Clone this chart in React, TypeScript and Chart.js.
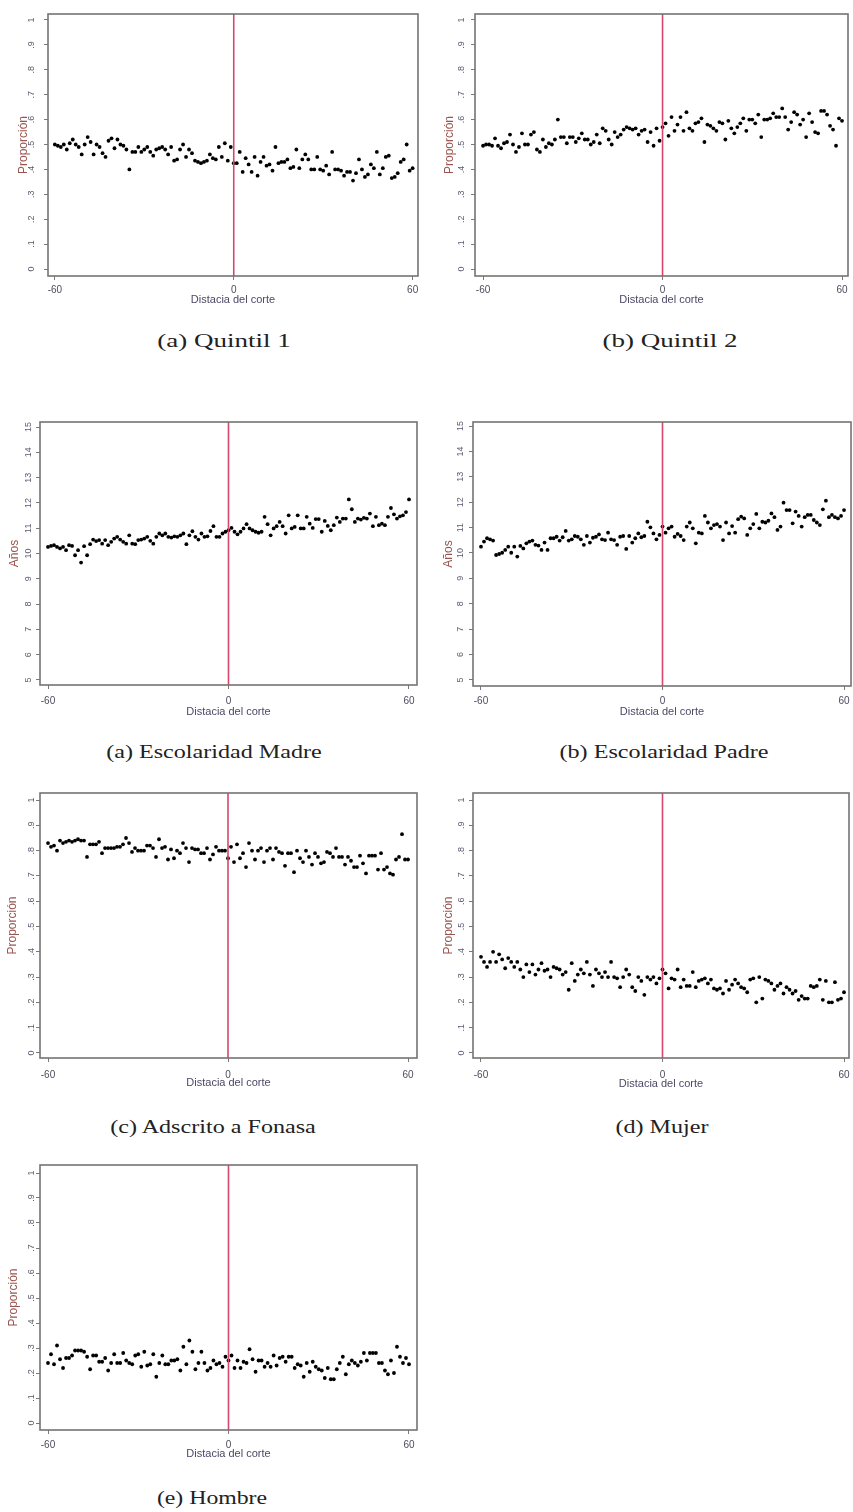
import { useEffect, useRef } from 'react';
import { Chart, registerables } from 'chart.js';

Chart.register(...registerables);

// ---------- data ----------
const DIST = [
  -60, -59, -58, -57, -56, -55, -54, -53, -52, -51,
  -50, -49, -48, -47, -46, -45, -44, -43, -42, -41,
  -40, -39, -38, -37, -36, -35, -34, -33, -32, -31,
  -30, -29, -28, -27, -26, -25, -24, -23, -22, -21,
  -20, -19, -18, -17, -16, -15, -14, -13, -12, -11,
  -10, -9, -8, -7, -6, -5, -4, -3, -2, -1,
  0,
  1, 2, 3, 4, 5, 6, 7, 8, 9, 10,
  11, 12, 13, 14, 15, 16, 17, 18, 19, 20,
  21, 22, 23, 24, 25, 26, 27, 28, 29, 30,
  31, 32, 33, 34, 35, 36, 37, 38, 39, 40,
  41, 42, 43, 44, 45, 46, 47, 48, 49, 50,
  51, 52, 53, 54, 55, 56, 57, 58, 59, 60,
];

const QUINTIL_1 = [
  0.50, 0.495, 0.49, 0.50, 0.48, 0.505, 0.52, 0.50, 0.49, 0.46,
  0.50, 0.53, 0.51, 0.46, 0.50, 0.49, 0.465, 0.45, 0.515, 0.525,
  0.485, 0.52, 0.50, 0.495, 0.48, 0.40, 0.47, 0.47, 0.49, 0.47,
  0.48, 0.49, 0.47, 0.455, 0.48, 0.485, 0.49, 0.48, 0.46, 0.49,
  0.435, 0.44, 0.48, 0.50, 0.45, 0.48, 0.465, 0.435, 0.43, 0.425,
  0.43, 0.435, 0.46, 0.445, 0.44, 0.49, 0.45, 0.505, 0.435, 0.49,
  0.425,
  0.425, 0.47, 0.39, 0.445, 0.42, 0.39, 0.45, 0.375, 0.43, 0.45,
  0.415, 0.42, 0.395, 0.49, 0.425, 0.43, 0.43, 0.44, 0.405, 0.41,
  0.48, 0.405, 0.44, 0.46, 0.44, 0.40, 0.40, 0.45, 0.40, 0.395,
  0.415, 0.38, 0.47, 0.40, 0.40, 0.395, 0.375, 0.39, 0.39, 0.355,
  0.385, 0.44, 0.40, 0.37, 0.38, 0.42, 0.405, 0.47, 0.38, 0.405,
  0.45, 0.455, 0.365, 0.37, 0.385, 0.43, 0.44, 0.50, 0.395, 0.405,
];

const QUINTIL_2 = [
  0.495, 0.50, 0.50, 0.495, 0.525, 0.495, 0.485, 0.505, 0.51, 0.54,
  0.50, 0.47, 0.49, 0.545, 0.50, 0.50, 0.54, 0.55, 0.48, 0.47,
  0.52, 0.49, 0.505, 0.50, 0.52, 0.60, 0.53, 0.53, 0.505, 0.53,
  0.53, 0.51, 0.525, 0.545, 0.52, 0.52, 0.50, 0.51, 0.54, 0.505,
  0.565, 0.555, 0.52, 0.50, 0.55, 0.53, 0.54, 0.56, 0.57, 0.565,
  0.56, 0.565, 0.54, 0.555, 0.56, 0.51, 0.55, 0.495, 0.565, 0.515,
  0.57,
  0.585, 0.535, 0.61, 0.555, 0.58, 0.61, 0.555, 0.63, 0.565, 0.555,
  0.585, 0.59, 0.605, 0.51, 0.58, 0.575, 0.565, 0.555, 0.59, 0.585,
  0.52, 0.595, 0.565, 0.545, 0.57, 0.585, 0.605, 0.555, 0.60, 0.60,
  0.585, 0.62, 0.53, 0.60, 0.60, 0.605, 0.625, 0.61, 0.61, 0.645,
  0.61, 0.56, 0.59, 0.63, 0.62, 0.58, 0.60, 0.53, 0.625, 0.59,
  0.55, 0.545, 0.635, 0.635, 0.62, 0.575, 0.56, 0.495, 0.605, 0.595,
];

const ESC_MADRE = [
  10.26, 10.30, 10.33, 10.26, 10.20, 10.26, 10.13, 10.33, 10.30, 9.93,
  10.13, 9.64, 10.29, 9.93, 10.37, 10.55, 10.49, 10.53, 10.39, 10.53,
  10.33, 10.46, 10.59, 10.66, 10.55, 10.46, 10.39, 10.72, 10.39, 10.37,
  10.53, 10.55, 10.59, 10.66, 10.50, 10.39, 10.66, 10.79, 10.72, 10.79,
  10.66, 10.63, 10.68, 10.66, 10.72, 10.79, 10.37, 10.72, 10.88, 10.66,
  10.55, 10.79, 10.66, 10.68, 10.89, 11.08, 10.66, 10.66, 10.79, 10.86,
  10.92,
  11.01, 10.86, 10.76, 10.86, 10.99, 11.16, 10.99, 10.92, 10.86, 10.82,
  10.86, 11.45, 11.16, 10.72, 10.99, 11.08, 11.25, 11.08, 10.79, 11.51,
  10.99, 11.05, 11.51, 10.99, 10.99, 11.45, 11.18, 11.01, 11.36, 11.36,
  10.86, 11.29, 11.09, 10.92, 11.12, 11.42, 11.25, 11.38, 11.38, 12.14,
  11.75, 11.25, 11.38, 11.34, 11.41, 11.38, 11.58, 11.08, 11.45, 11.12,
  11.18, 11.12, 11.45, 11.80, 11.55, 11.38, 11.47, 11.51, 11.64, 12.14,
];

const ESC_PADRE = [
  10.25, 10.45, 10.58, 10.54, 10.49, 9.92, 9.96, 10.01, 10.12, 10.25,
  10.01, 10.25, 9.86, 10.28, 10.18, 10.38, 10.45, 10.49, 10.32, 10.29,
  10.12, 10.41, 10.12, 10.58, 10.58, 10.64, 10.49, 10.62, 10.87, 10.49,
  10.54, 10.67, 10.64, 10.54, 10.32, 10.67, 10.41, 10.60, 10.64, 10.73,
  10.54, 10.51, 10.80, 10.54, 10.51, 10.32, 10.64, 10.67, 10.16, 10.67,
  10.41, 10.58, 10.77, 10.62, 10.67, 11.23, 11.01, 10.77, 10.54, 10.71,
  11.04,
  10.80, 10.97, 11.04, 10.64, 10.75, 10.67, 10.51, 11.04, 11.20, 10.97,
  10.38, 10.80, 10.77, 11.46, 11.20, 10.97, 11.10, 11.14, 11.04, 10.51,
  11.20, 10.77, 11.06, 10.80, 11.33, 11.43, 11.36, 10.71, 10.97, 11.14,
  11.54, 10.97, 11.23, 11.20, 11.27, 11.56, 11.41, 10.91, 11.04, 11.98,
  11.69, 11.69, 11.17, 11.63, 11.46, 11.04, 11.41, 11.50, 11.50, 11.30,
  11.20, 11.10, 11.72, 12.06, 11.41, 11.50, 11.41, 11.36, 11.46, 11.69,
];

const FONASA = [
  0.83, 0.815, 0.82, 0.80, 0.84, 0.83, 0.835, 0.84, 0.835, 0.84,
  0.845, 0.84, 0.84, 0.775, 0.825, 0.825, 0.825, 0.835, 0.79, 0.81,
  0.81, 0.81, 0.81, 0.815, 0.815, 0.825, 0.85, 0.83, 0.795, 0.81,
  0.80, 0.80, 0.80, 0.82, 0.82, 0.81, 0.775, 0.845, 0.81, 0.815,
  0.765, 0.805, 0.77, 0.80, 0.79, 0.83, 0.81, 0.755, 0.81, 0.805,
  0.805, 0.79, 0.79, 0.81, 0.765, 0.785, 0.815, 0.80, 0.80, 0.80,
  0.77,
  0.815, 0.755, 0.825, 0.77, 0.79, 0.735, 0.83, 0.80, 0.765, 0.80,
  0.81, 0.755, 0.80, 0.81, 0.765, 0.81, 0.795, 0.79, 0.74, 0.79,
  0.79, 0.715, 0.80, 0.77, 0.755, 0.80, 0.775, 0.745, 0.79, 0.775,
  0.75, 0.755, 0.795, 0.79, 0.775, 0.81, 0.775, 0.775, 0.745, 0.775,
  0.76, 0.735, 0.735, 0.78, 0.75, 0.71, 0.78, 0.78, 0.78, 0.725,
  0.79, 0.725, 0.735, 0.71, 0.705, 0.765, 0.775, 0.865, 0.765, 0.765,
];

const MUJER = [
  0.38, 0.36, 0.34, 0.36, 0.40, 0.36, 0.39, 0.37, 0.335, 0.375,
  0.36, 0.34, 0.36, 0.33, 0.30, 0.35, 0.32, 0.35, 0.31, 0.33,
  0.355, 0.325, 0.33, 0.30, 0.34, 0.335, 0.33, 0.31, 0.32, 0.25,
  0.355, 0.285, 0.31, 0.33, 0.315, 0.36, 0.31, 0.265, 0.33, 0.315,
  0.30, 0.32, 0.30, 0.36, 0.30, 0.295, 0.26, 0.30, 0.33, 0.31,
  0.26, 0.245, 0.30, 0.285, 0.23, 0.30, 0.29, 0.30, 0.275, 0.295,
  0.33,
  0.315, 0.255, 0.295, 0.29, 0.33, 0.26, 0.29, 0.265, 0.265, 0.32,
  0.26, 0.285, 0.29, 0.295, 0.275, 0.29, 0.255, 0.25, 0.255, 0.235,
  0.285, 0.25, 0.27, 0.29, 0.275, 0.26, 0.255, 0.24, 0.29, 0.295,
  0.20, 0.30, 0.215, 0.29, 0.285, 0.275, 0.25, 0.265, 0.275, 0.235,
  0.26, 0.25, 0.235, 0.245, 0.21, 0.225, 0.215, 0.215, 0.265, 0.26,
  0.265, 0.29, 0.21, 0.285, 0.20, 0.20, 0.28, 0.21, 0.215, 0.24,
];

const HOMBRE = [
  0.24, 0.275, 0.235, 0.31, 0.255, 0.22, 0.26, 0.26, 0.27, 0.29,
  0.29, 0.29, 0.285, 0.265, 0.215, 0.27, 0.27, 0.245, 0.245, 0.26,
  0.21, 0.24, 0.275, 0.24, 0.24, 0.28, 0.25, 0.24, 0.235, 0.27,
  0.275, 0.225, 0.285, 0.23, 0.235, 0.275, 0.185, 0.24, 0.27, 0.235,
  0.235, 0.25, 0.25, 0.255, 0.21, 0.305, 0.235, 0.33, 0.285, 0.215,
  0.24, 0.285, 0.24, 0.21, 0.22, 0.25, 0.235, 0.24, 0.225, 0.265,
  0.25,
  0.27, 0.22, 0.25, 0.22, 0.245, 0.24, 0.295, 0.255, 0.205, 0.25,
  0.25, 0.225, 0.24, 0.225, 0.27, 0.23, 0.26, 0.265, 0.245, 0.265,
  0.265, 0.22, 0.235, 0.23, 0.185, 0.24, 0.205, 0.245, 0.225, 0.215,
  0.21, 0.18, 0.22, 0.175, 0.175, 0.215, 0.24, 0.265, 0.195, 0.235,
  0.25, 0.24, 0.23, 0.245, 0.28, 0.25, 0.28, 0.28, 0.28, 0.24,
  0.24, 0.21, 0.195, 0.25, 0.20, 0.305, 0.265, 0.24, 0.26, 0.235,
];

const X_TICKS = [-60, 0, 60];
const X_TICK_LABELS = ['-60', '0', '60'];
const PROP_TICKS = [0, 0.1, 0.2, 0.3, 0.4, 0.5, 0.6, 0.7, 0.8, 0.9, 1];
const PROP_LABELS = ['0', '.1', '.2', '.3', '.4', '.5', '.6', '.7', '.8', '.9', '1'];
const YEAR_TICKS = [5, 6, 7, 8, 9, 10, 11, 12, 13, 14, 15];
const YEAR_LABELS = ['5', '6', '7', '8', '9', '10', '11', '12', '13', '14', '15'];

const X_TITLE = 'Distacia del corte';

// ---------- layout / style ----------
const FONT = 'Liberation Sans, Arial, sans-serif';
const RED = '#d8466c';
const FRAME = '#747474';
const PAD_TOP = 20;
const PAD_RIGHT = 10;
const Y_BOX = 48;
const X_BOX = 34;

type PanelDef = {
  values: number[];
  caption: string;
  capX: number;
  capY: number;
  capScale: number;
  frame: { l: number; t: number; r: number; b: number };
  xMin: number;
  xMax: number;
  yMin: number;
  yMax: number;
  yTicks: number[];
  yLabels: string[];
  yTitle: string;
  yTickPad: number;
  yTitlePad: number;
  xTickPad: number;
  xTitlePad: number;
};

const PANELS: PanelDef[] = [
  {
    values: QUINTIL_1, caption: '(a) Quintil 1', capX: 224, capY: 341, capScale: 1.5,
    frame: { l: 48, t: 14, r: 418, b: 276 }, xMin: -62.3, xMax: 61.8, yMin: -0.028, yMax: 1.024,
    yTicks: PROP_TICKS, yLabels: PROP_LABELS, yTitle: 'Proporción',
    yTickPad: 8.5, yTitlePad: 16.2, xTickPad: 4.7, xTitlePad: 3.4,
  },
  {
    values: QUINTIL_2, caption: '(b) Quintil 2', capX: 670, capY: 341, capScale: 1.5,
    frame: { l: 475, t: 14, r: 848, b: 276 }, xMin: -62.7, xMax: 62.0, yMin: -0.028, yMax: 1.024,
    yTicks: PROP_TICKS, yLabels: PROP_LABELS, yTitle: 'Proporción',
    yTickPad: 5.5, yTitlePad: 15.8, xTickPad: 4, xTitlePad: 3.4,
  },
  {
    values: ESC_MADRE, caption: '(a) Escolaridad Madre', capX: 214, capY: 752, capScale: 1.34,
    frame: { l: 40, t: 422, r: 417, b: 685 }, xMin: -62.66, xMax: 62.66, yMin: 4.8, yMax: 15.2,
    yTicks: YEAR_TICKS, yLabels: YEAR_LABELS, yTitle: 'Años',
    yTickPad: 2.3, yTitlePad: 15.8, xTickPad: 6.7, xTitlePad: 0.4,
  },
  {
    values: ESC_PADRE, caption: '(b) Escolaridad Padre', capX: 664, capY: 752, capScale: 1.34,
    frame: { l: 473, t: 422, r: 851, b: 686 }, xMin: -62.64, xMax: 62.3, yMin: 4.76, yMax: 15.16,
    yTicks: YEAR_TICKS, yLabels: YEAR_LABELS, yTitle: 'Años',
    yTickPad: 3.3, yTitlePad: 16.1, xTickPad: 5.7, xTitlePad: 1.7,
  },
  {
    values: FONASA, caption: '(c) Adscrito a Fonasa', capX: 213, capY: 1127, capScale: 1.34,
    frame: { l: 40, t: 793, r: 417, b: 1058 }, xMin: -62.67, xMax: 63.0, yMin: -0.02, yMax: 1.028,
    yTicks: PROP_TICKS, yLabels: PROP_LABELS, yTitle: 'Proporción',
    yTickPad: 1, yTitlePad: 13.8, xTickPad: 7, xTitlePad: 2.4,
  },
  {
    values: MUJER, caption: '(d) Mujer', capX: 662, capY: 1127, capScale: 1.34,
    frame: { l: 473, t: 793, r: 849, b: 1058 }, xMin: -62.64, xMax: 61.65, yMin: -0.02, yMax: 1.028,
    yTicks: PROP_TICKS, yLabels: PROP_LABELS, yTitle: 'Proporción',
    yTickPad: 3.5, yTitlePad: 16.1, xTickPad: 7, xTitlePad: 1.4,
  },
  {
    values: HOMBRE, caption: '(e) Hombre', capX: 212, capY: 1498, capScale: 1.32,
    frame: { l: 40, t: 1165, r: 417, b: 1430 }, xMin: -62.66, xMax: 62.66, yMin: -0.028, yMax: 1.032,
    yTicks: PROP_TICKS, yLabels: PROP_LABELS, yTitle: 'Proporción',
    yTickPad: 1.2, yTitlePad: 14.1, xTickPad: 5, xTitlePad: 3.4,
  },
];

const framePlugin = {
  id: 'frameBox',
  afterDraw(chart: any) {
    const { ctx, chartArea: a } = chart;
    ctx.save();
    ctx.strokeStyle = FRAME;
    ctx.lineWidth = 1.6;
    ctx.strokeRect(a.left, a.top, a.right - a.left, a.bottom - a.top);
    ctx.restore();
  },
};

function Panel({ p }: { p: PanelDef }) {
  const ref = useRef<HTMLCanvasElement | null>(null);
  const w = p.frame.r - p.frame.l + Y_BOX + PAD_RIGHT;
  const h = p.frame.b - p.frame.t + PAD_TOP + X_BOX;

  useEffect(() => {
    if (!ref.current) return;
    const points = DIST.map((x, i) => ({ x, y: p.values[i] }));
    const chart = new Chart(ref.current, {
      type: 'scatter',
      data: {
        datasets: [
          {
            type: 'line',
            data: [
              { x: 0, y: p.yMin },
              { x: 0, y: p.yMax },
            ],
            borderColor: RED,
            borderWidth: 1.6,
            pointRadius: 0,
            order: 0,
          } as any,
          {
            data: points,
            backgroundColor: '#000',
            borderColor: '#000',
            borderWidth: 0,
            pointRadius: 1.9,
            pointStyle: 'circle',
            order: 1,
          },
        ],
      },
      options: {
        animation: false,
        responsive: false,
        events: [],
        layout: { padding: { top: PAD_TOP, right: PAD_RIGHT, left: 0, bottom: 0 } },
        plugins: { legend: { display: false }, tooltip: { enabled: false } },
        scales: {
          x: {
            type: 'linear',
            min: p.xMin,
            max: p.xMax,
            afterBuildTicks: (s: any) => {
              s.ticks = X_TICKS.map((v) => ({ value: v }));
            },
            afterFit: (s: any) => {
              s.height = X_BOX;
            },
            ticks: {
              autoSkip: false,
              maxRotation: 0,
              minRotation: 0,
              padding: p.xTickPad,
              color: '#4e4a5e',
              font: { family: FONT, size: 10 },
              callback: (v: any) => X_TICK_LABELS[X_TICKS.indexOf(Number(v))] ?? '',
            },
            grid: { display: true, drawOnChartArea: false, drawTicks: true, tickLength: 4, color: '#7a7a7a', lineWidth: 1 },
            border: { display: false },
            title: {
              display: true,
              text: X_TITLE,
              color: '#4d4766',
              font: { family: FONT, size: 11 },
              padding: { top: 0, bottom: p.xTitlePad },
            },
          },
          y: {
            type: 'linear',
            position: 'left',
            min: p.yMin,
            max: p.yMax,
            afterBuildTicks: (s: any) => {
              s.ticks = p.yTicks.map((v) => ({ value: v }));
            },
            afterFit: (s: any) => {
              s.width = Y_BOX;
            },
            ticks: {
              autoSkip: false,
              minRotation: 90,
              maxRotation: 90,
              crossAlign: 'center',
              padding: p.yTickPad,
              color: '#5c5a6e',
              font: { family: FONT, size: 9 },
              callback: (_v: any, i: number) => p.yLabels[i] ?? '',
            },
            grid: { display: true, drawOnChartArea: false, drawTicks: true, tickLength: 4, color: '#7a7a7a', lineWidth: 1 },
            border: { display: false },
            title: {
              display: true,
              text: p.yTitle,
              color: '#9a5550',
              font: { family: FONT, size: 12 },
              padding: { top: p.yTitlePad, bottom: 0 },
            },
          },
        },
      } as any,
      plugins: [framePlugin],
    });
    return () => chart.destroy();
  }, [p]);

  return (
    <>
      <div
        style={{
          position: 'absolute',
          left: p.frame.l - Y_BOX,
          top: p.frame.t - PAD_TOP,
          width: w,
          height: h,
        }}
      >
        <canvas ref={ref} width={w} height={h} style={{ display: 'block', width: w, height: h }} />
      </div>
      <div
        style={{
          position: 'absolute',
          left: p.capX,
          top: p.capY,
          transform: `translate(-50%, -50%) scaleX(${p.capScale})`,
          whiteSpace: 'nowrap',
          fontFamily: 'Liberation Serif, Times New Roman, serif',
          fontSize: 18,
          color: '#222',
          lineHeight: 1,
        }}
      >
        {p.caption}
      </div>
    </>
  );
}

export default function App() {
  return (
    <div
      style={{
        position: 'absolute',
        left: 0,
        top: 0,
        width: 853,
        height: 1512,
        background: '#fff',
        overflow: 'hidden',
      }}
    >
      {PANELS.map((p, i) => (
        <Panel key={i} p={p} />
      ))}
    </div>
  );
}
